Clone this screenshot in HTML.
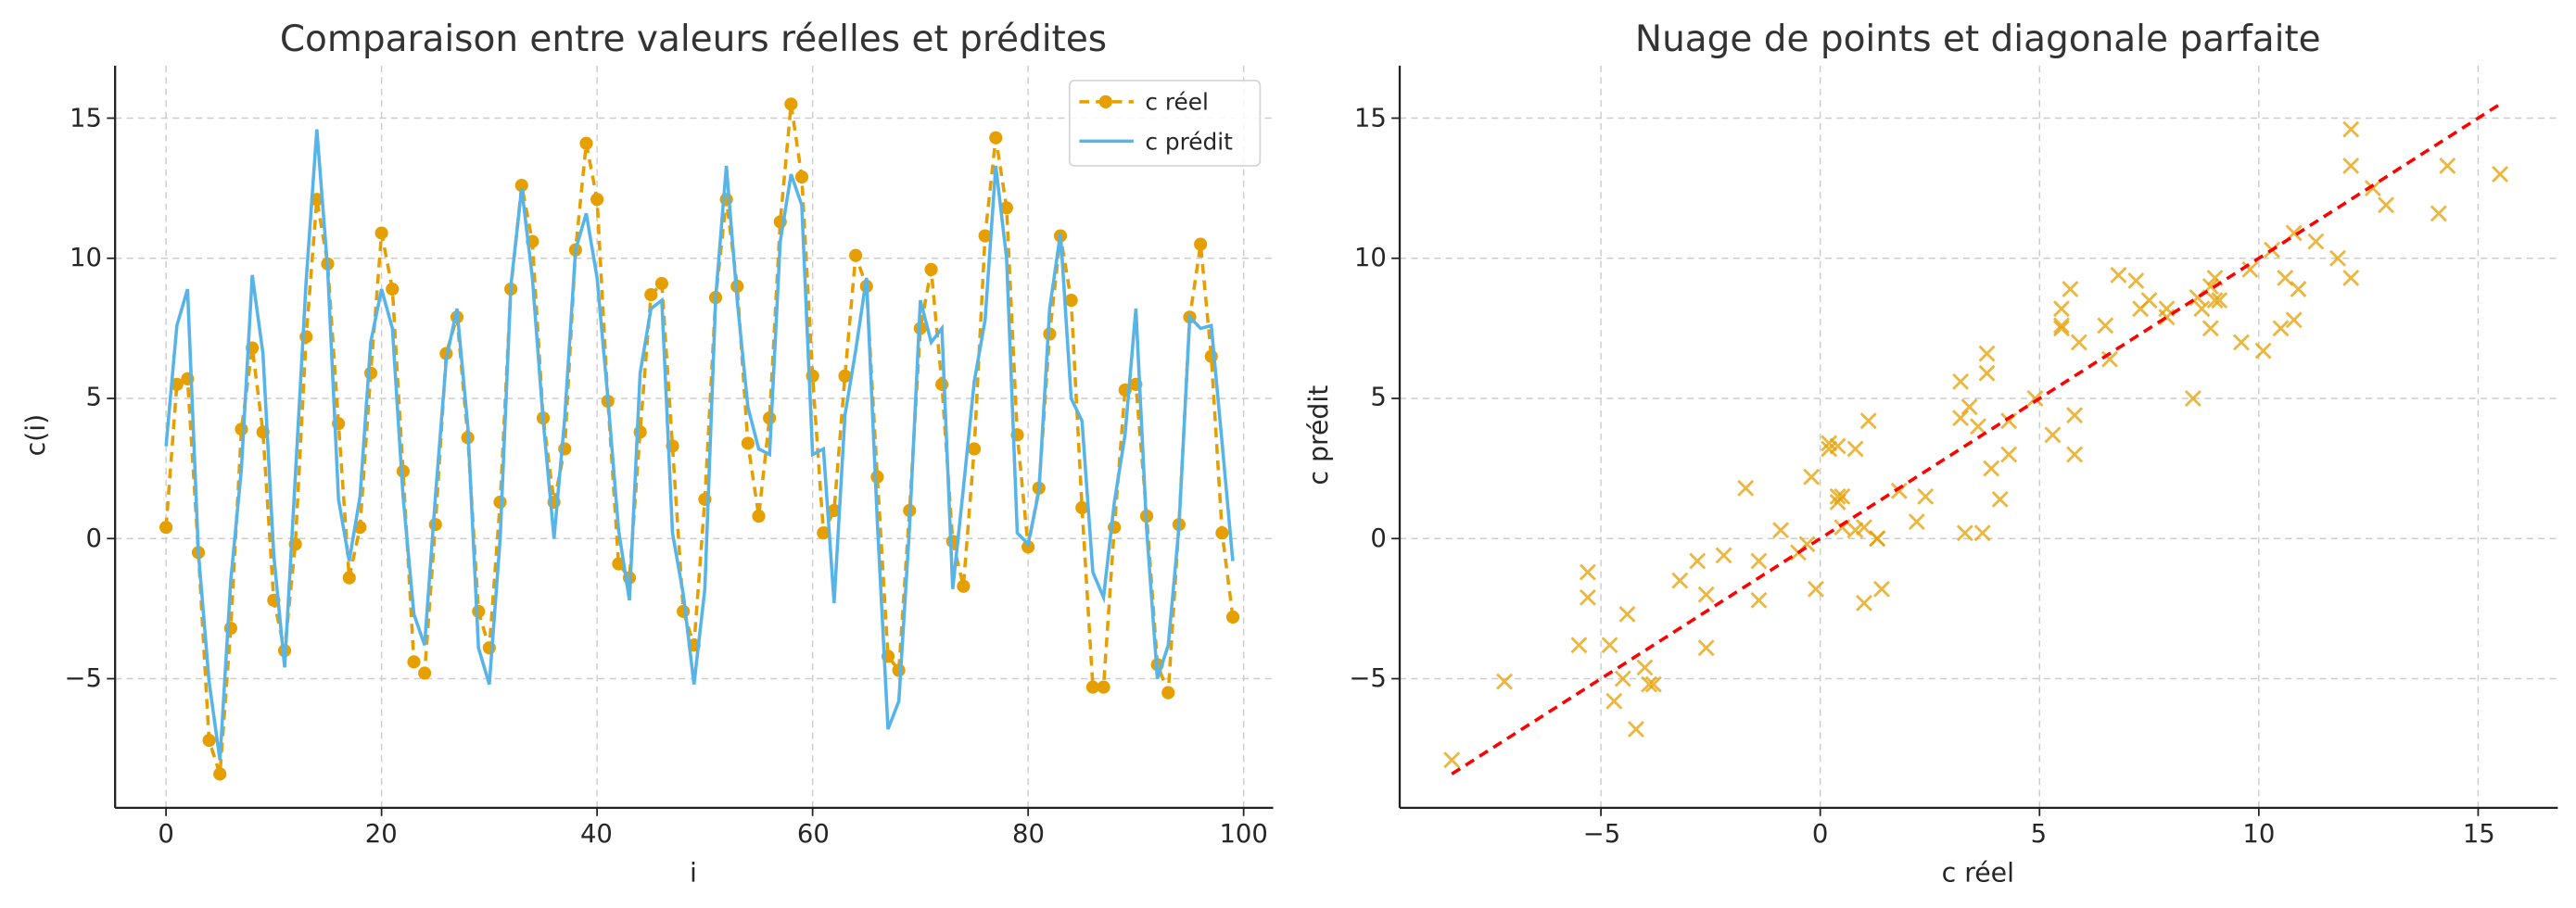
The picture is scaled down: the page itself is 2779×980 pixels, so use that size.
<!DOCTYPE html>
<html><head><meta charset="utf-8"><style>
html,body{margin:0;padding:0;background:#fff;}
svg{display:block;font-family:"DejaVu Sans","Liberation Sans",sans-serif;}
</style></head><body>
<svg id="s" width="2779" height="980" viewBox="0 0 1568 553" xmlns="http://www.w3.org/2000/svg">
<rect width="1568" height="553" fill="#fff"/>
<g id="grid" stroke="#cccccc" stroke-width="0.8" stroke-dasharray="4,3" fill="none"></g>
<g id="data"></g>
<!-- spines -->
<g stroke="#222" stroke-width="1.3">
<line x1="70" y1="40" x2="70" y2="492"/><line x1="70" y1="492" x2="775" y2="492"/>
<line x1="852" y1="40" x2="852" y2="492"/><line x1="852" y1="492" x2="1557" y2="492"/>
</g>
<g id="ticks" stroke="#222" stroke-width="1"></g>
<g fill="#262626" font-size="15.5">
<g text-anchor="middle">
<text x="101" y="513">0</text><text x="232" y="513">20</text><text x="363" y="513">40</text><text x="495" y="513">60</text><text x="626" y="513">80</text><text x="757" y="513">100</text>
<text x="975" y="513">−5</text><text x="1108" y="513">0</text><text x="1241" y="513">5</text><text x="1375" y="513">10</text><text x="1509" y="513">15</text>
</g>
<g text-anchor="end">
<text x="62" y="77">15</text><text x="62" y="162">10</text><text x="62" y="247">5</text><text x="62" y="333">0</text><text x="62" y="418">−5</text>
<text x="844" y="77">15</text><text x="844" y="162">10</text><text x="844" y="247">5</text><text x="844" y="333">0</text><text x="844" y="418">−5</text>
</g>
</g>
<g fill="#262626" font-size="16" text-anchor="middle">
<text x="422" y="537">i</text>
<text x="1204" y="537">c réel</text>
<text transform="translate(27,265) rotate(-90)">c(i)</text>
<text transform="translate(808,265) rotate(-90)">c prédit</text>
</g>
<g fill="#333" font-size="22" text-anchor="middle">
<text x="422" y="31">Comparaison entre valeurs réelles et prédites</text>
<text x="1204" y="31">Nuage de points et diagonale parfaite</text>
</g>
<!-- legend -->
<rect x="651" y="49" width="116" height="52" rx="3" fill="#fff" fill-opacity="0.85" stroke="#d6d6d6" stroke-width="1"/>
<line x1="657" y1="62" x2="690" y2="62" stroke="#E69F00" stroke-width="2" stroke-dasharray="6,4"/>
<circle cx="673" cy="62" r="4" fill="#E69F00"/>
<line x1="657" y1="86" x2="690" y2="86" stroke="#56B4E9" stroke-width="2"/>
<g font-size="14" fill="#262626"><text x="697" y="67">c réel</text><text x="697" y="91">c prédit</text></g>
</svg>
<script>
var R=[0.4,5.5,5.7,-0.5,-7.2,-8.4,-3.2,3.9,6.8,3.8,-2.2,-4.0,-0.2,7.2,12.1,9.8,4.1,-1.4,0.4,5.9,10.9,8.9,2.4,-4.4,-4.8,0.5,6.6,7.9,3.6,-2.6,-3.9,1.3,8.9,12.6,10.6,4.3,1.3,3.2,10.3,14.1,12.1,4.9,-0.9,-1.4,3.8,8.7,9.1,3.3,-2.6,-3.8,1.4,8.6,12.1,9.0,3.4,0.8,4.3,11.3,15.5,12.9,5.8,0.2,1.0,5.8,10.1,9.0,2.2,-4.2,-4.7,1.0,7.5,9.6,5.5,-0.1,-1.7,3.2,10.8,14.3,11.8,3.7,-0.3,1.8,7.3,10.8,8.5,1.1,-5.3,-5.3,0.4,5.3,5.5,0.8,-4.5,-5.5,0.5,7.9,10.5,6.5,0.2,-2.8];
var P=[3.3,7.6,8.9,-0.5,-5.1,-7.9,-1.5,2.5,9.4,6.6,-0.6,-4.6,2.2,9.2,14.6,9.6,1.4,-0.8,1.5,7.0,8.9,7.5,1.5,-2.7,-3.8,1.5,6.4,8.2,4.0,-3.9,-5.2,0.0,9.0,12.5,9.3,4.2,0.0,4.3,10.3,11.6,9.3,5.0,0.3,-2.2,5.9,8.2,8.5,0.2,-2.0,-5.2,-1.8,8.6,13.3,8.5,4.7,3.2,3.0,10.6,13.0,11.9,3.0,3.2,-2.3,4.4,6.7,9.3,0.6,-6.8,-5.8,0.4,8.5,7.0,7.5,-1.8,1.8,5.6,7.8,13.3,10.0,0.2,-0.2,1.7,8.2,10.9,5.0,4.2,-1.2,-2.1,1.3,3.7,8.2,0.3,-5.0,-3.8,0.4,7.9,7.5,7.6,3.4,-0.8];
var NS="http://www.w3.org/2000/svg";
function el(p,t,a){var e=document.createElementNS(NS,t);for(var k in a)e.setAttribute(k,a[k]);p.appendChild(e);return e;}
var g=document.getElementById('grid'),tk=document.getElementById('ticks'),d=document.getElementById('data');
function yv(v){return 328-v*17.07;}
function lx(i){return 101+i*6.56;}
function rx(v){return 1108+v*26.7;}
[0,20,40,60,80,100].forEach(function(i){var x=lx(i);el(g,'line',{x1:x,y1:40,x2:x,y2:492});el(tk,'line',{x1:x,y1:492,x2:x,y2:497});});
[-5,0,5,10,15].forEach(function(v){var x=rx(v);el(g,'line',{x1:x,y1:40,x2:x,y2:492});el(tk,'line',{x1:x,y1:492,x2:x,y2:497});});
[-5,0,5,10,15].forEach(function(v){var y=yv(v);el(g,'line',{x1:70,y1:y,x2:775,y2:y});el(g,'line',{x1:852,y1:y,x2:1557,y2:y});el(tk,'line',{x1:65,y1:y,x2:70,y2:y});el(tk,'line',{x1:847,y1:y,x2:852,y2:y});});
var pr="",pp="";
for(var i=0;i<100;i++){pr+=(i?"L":"M")+lx(i).toFixed(1)+","+yv(R[i]).toFixed(1);pp+=(i?"L":"M")+lx(i).toFixed(1)+","+yv(P[i]).toFixed(1);}
el(d,'path',{d:pr,stroke:'#E69F00','stroke-width':2,fill:'none','stroke-dasharray':'6,4'});
for(var i=0;i<100;i++)el(d,'circle',{cx:lx(i),cy:yv(R[i]),r:4,fill:'#E69F00'});
el(d,'path',{d:pp,stroke:'#56B4E9','stroke-width':2,fill:'none'});
for(var i=0;i<100;i++){var x=rx(R[i]),y=yv(P[i]);el(d,'path',{d:"M"+(x-4.5)+","+(y-4.5)+"L"+(x+4.5)+","+(y+4.5)+"M"+(x-4.5)+","+(y+4.5)+"L"+(x+4.5)+","+(y-4.5),stroke:'#E69F00','stroke-opacity':0.75,'stroke-width':1.6,fill:'none'});}
el(d,'line',{x1:rx(-8.4),y1:yv(-8.4),x2:rx(15.5),y2:yv(15.5),stroke:'#ff0000','stroke-width':2,'stroke-dasharray':'6,4'});
</script>
</body></html>
